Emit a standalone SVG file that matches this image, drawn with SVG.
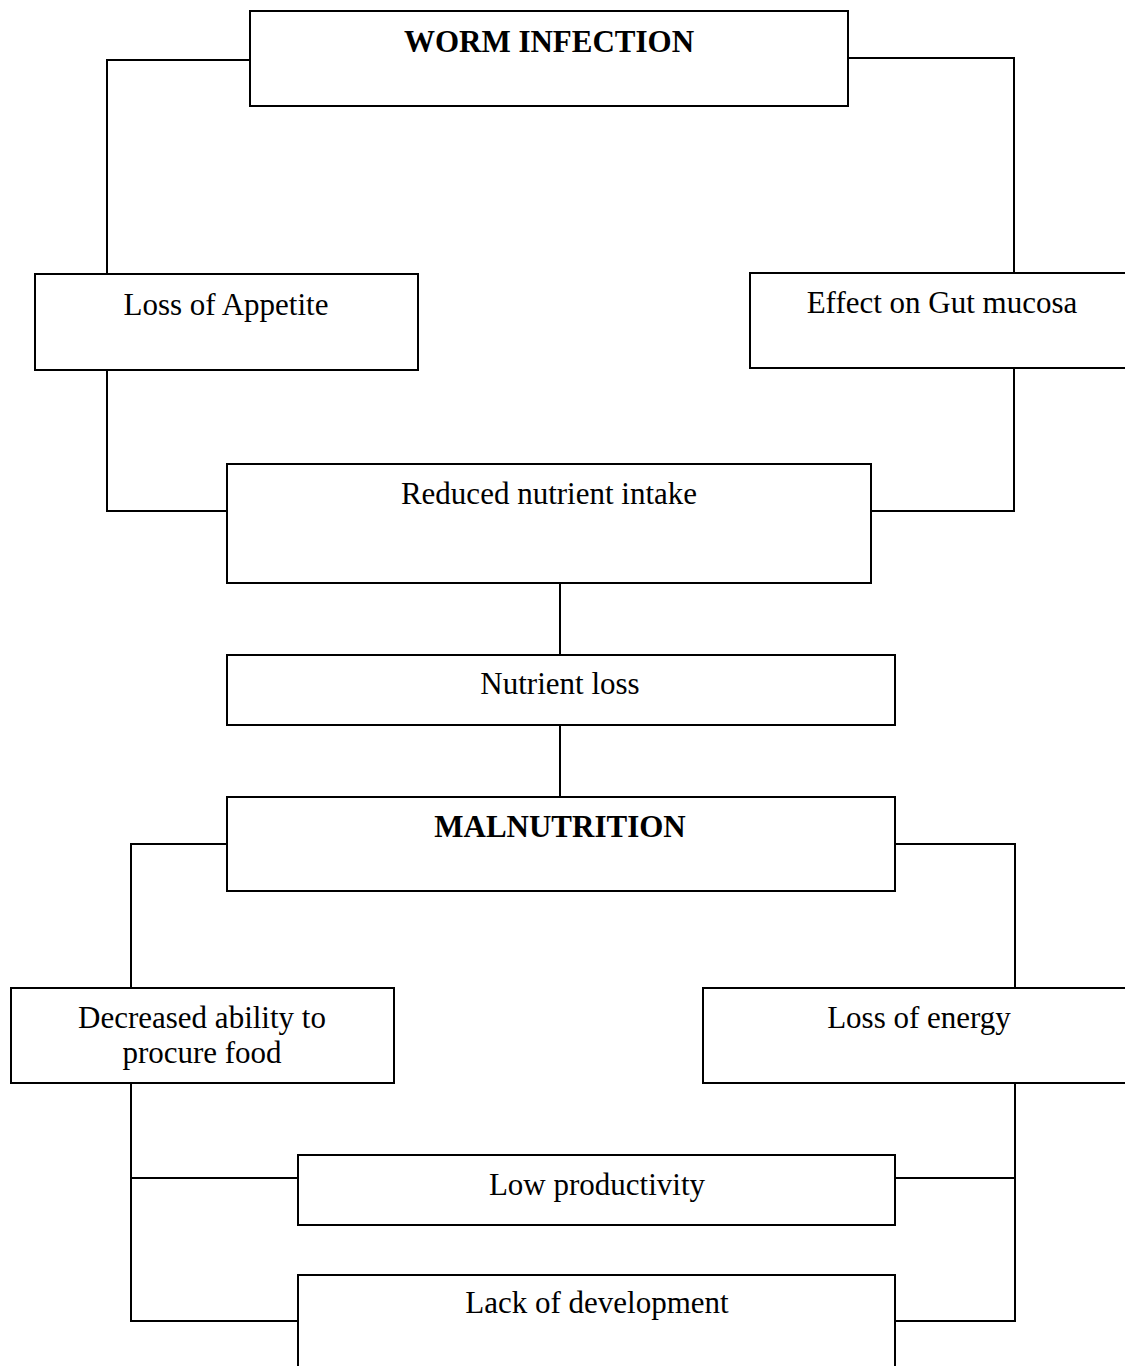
<svg xmlns="http://www.w3.org/2000/svg" width="1125" height="1366" viewBox="0 0 1125 1366">
<style>
.box{fill:none;stroke:#000;stroke-width:2}
.ln{fill:none;stroke:#000;stroke-width:2}
text{font-family:"Liberation Serif","Times New Roman",serif;font-size:31px;fill:#000;text-anchor:middle}
.b{font-weight:bold}
</style>
<rect width="1125" height="1366" fill="#fff"/>
<g id="connectors">
<polyline class="ln" points="250,60 107,60 107,274"/>
<polyline class="ln" points="848,58 1014,58 1014,273"/>
<polyline class="ln" points="107,370 107,511 227,511"/>
<polyline class="ln" points="1014,368 1014,511 871,511"/>
<line class="ln" x1="560" y1="583" x2="560" y2="655"/>
<line class="ln" x1="560" y1="725" x2="560" y2="797"/>
<polyline class="ln" points="227,844 131,844 131,988"/>
<polyline class="ln" points="895,844 1015,844 1015,988"/>
<polyline class="ln" points="131,1083 131,1321 298,1321"/>
<line class="ln" x1="131" y1="1178" x2="298" y2="1178"/>
<polyline class="ln" points="1015,1083 1015,1321 895,1321"/>
<line class="ln" x1="895" y1="1178" x2="1015" y2="1178"/>
</g>
<g id="worm-infection">
<rect class="box" x="250" y="11" width="598" height="95"/>
<text class="b" x="549" y="52">WORM INFECTION</text>
</g>
<g id="loss-of-appetite">
<rect class="box" x="35" y="274" width="383" height="96"/>
<text x="226" y="315">Loss of Appetite</text>
</g>
<g id="effect-gut-mucosa">
<rect class="box" x="750" y="273" width="390" height="95"/>
<text x="942" y="313">Effect on Gut mucosa</text>
</g>
<g id="reduced-nutrient-intake">
<rect class="box" x="227" y="464" width="644" height="119"/>
<text x="549" y="504">Reduced nutrient intake</text>
</g>
<g id="nutrient-loss">
<rect class="box" x="227" y="655" width="668" height="70"/>
<text x="560" y="694">Nutrient loss</text>
</g>
<g id="malnutrition">
<rect class="box" x="227" y="797" width="668" height="94"/>
<text class="b" x="560" y="837">MALNUTRITION</text>
</g>
<g id="decreased-ability">
<rect class="box" x="11" y="988" width="383" height="95"/>
<text x="202" y="1028">Decreased ability to</text>
<text x="202" y="1063">procure food</text>
</g>
<g id="loss-of-energy">
<rect class="box" x="703" y="988" width="440" height="95"/>
<text x="919" y="1028">Loss of energy</text>
</g>
<g id="low-productivity">
<rect class="box" x="298" y="1155" width="597" height="70"/>
<text x="597" y="1195">Low productivity</text>
</g>
<g id="lack-of-development">
<rect class="box" x="298" y="1275" width="597" height="110"/>
<text x="597" y="1313">Lack of development</text>
</g>
</svg>
